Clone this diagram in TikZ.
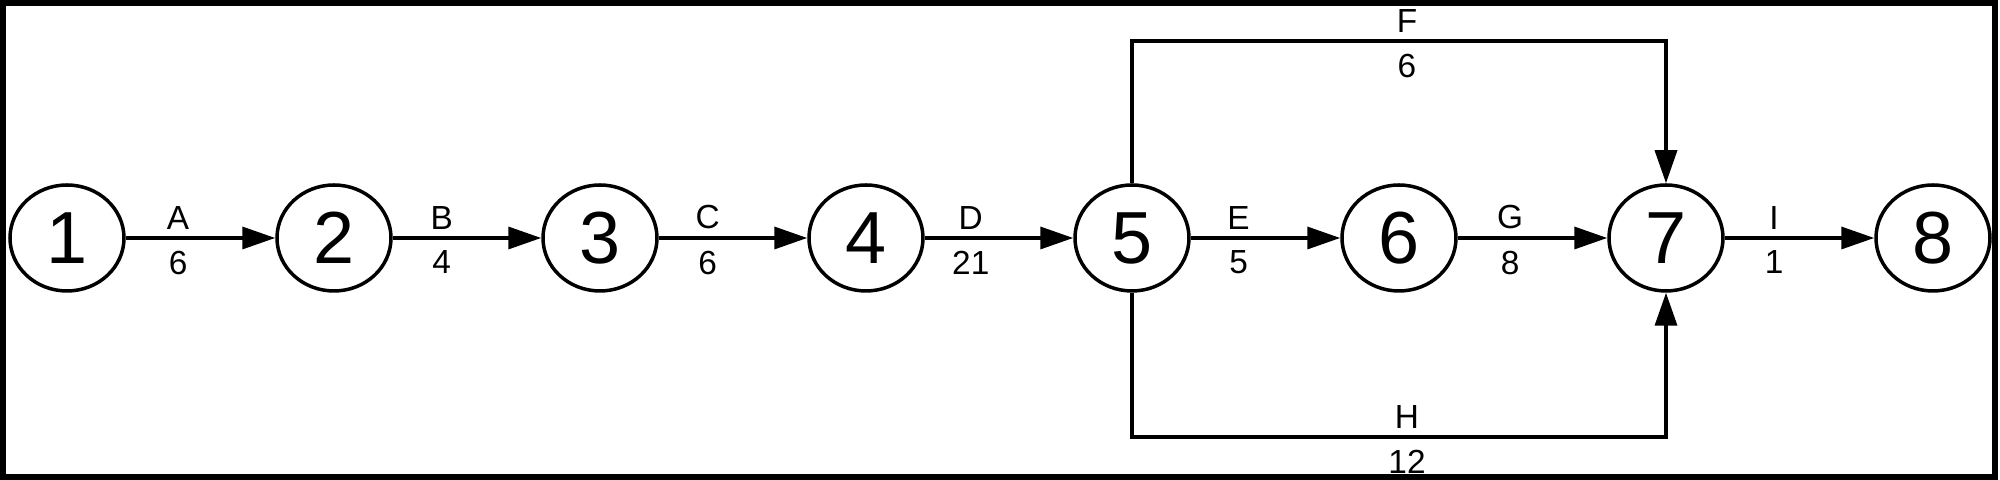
\documentclass[tikz,border=0pt]{standalone}
\usepackage{fontspec}
\setmainfont{Liberation Sans}
\usetikzlibrary{arrows.meta,shapes.geometric}
\begin{document}
\begin{tikzpicture}[x=0.1mm,y=-0.1mm,
  ev/.style={ellipse,draw,line width=0.35mm,minimum width=11.4mm,minimum height=10.6mm,inner sep=0pt,font=\fontsize{21pt}{21pt}\selectfont},
  act/.style={draw,line width=0.35mm,-{Triangle[length=3.3mm,width=2.2mm]}},
  lab/.style={font=\fontsize{9.5pt}{9.5pt}\selectfont,inner sep=0pt},
  lup/.style={lab,above=0.7mm},
  ldn/.style={lab,below=1.1mm}]
\useasboundingbox (0,0) rectangle (2000,480);
\node[ev] (n1) at (67,238) {1};
\node[ev] (n2) at (334,238) {2};
\node[ev] (n3) at (600,238) {3};
\node[ev] (n4) at (866,238) {4};
\node[ev] (n5) at (1132,238) {5};
\node[ev] (n6) at (1399,238) {6};
\node[ev] (n7) at (1666,238) {7};
\node[ev] (n8) at (1933,238) {8};
\draw[act] (n1) -- node[pos=0.35,lup]{A} node[pos=0.35,ldn]{6} (n2);
\draw[act] (n2) -- node[pos=0.33,lup]{B} node[pos=0.33,ldn]{4} (n3);
\draw[act] (n3) -- node[pos=0.33,lup]{C} node[pos=0.33,ldn]{6} (n4);
\draw[act] (n4) -- node[pos=0.31,lup]{D} node[pos=0.31,ldn]{21} (n5);
\draw[act] (n5) -- node[pos=0.32,lup]{E} node[pos=0.32,ldn]{5} (n6);
\draw[act] (n6) -- node[pos=0.35,lup]{G} node[pos=0.35,ldn]{8} (n7);
\draw[act] (n7) -- node[pos=0.33,lup]{I} node[pos=0.33,ldn]{1} (n8);
\coordinate (ftop) at (1399,41);
\coordinate (hbot) at (1399,437);
\draw[act] (n5.north) -- (n5.north |- ftop) -- node[pos=0.515,lup]{F} node[pos=0.515,ldn]{6} (n7.north |- ftop) -- (n7.north);
\draw[act] (n5.south) -- (n5.south |- hbot) -- node[pos=0.515,lup]{H} node[pos=0.515,ldn]{12} (n7.south |- hbot) -- (n7.south);
\draw[line width=0.6mm] (3,3) rectangle (1995,477);
\end{tikzpicture}
\end{document}
